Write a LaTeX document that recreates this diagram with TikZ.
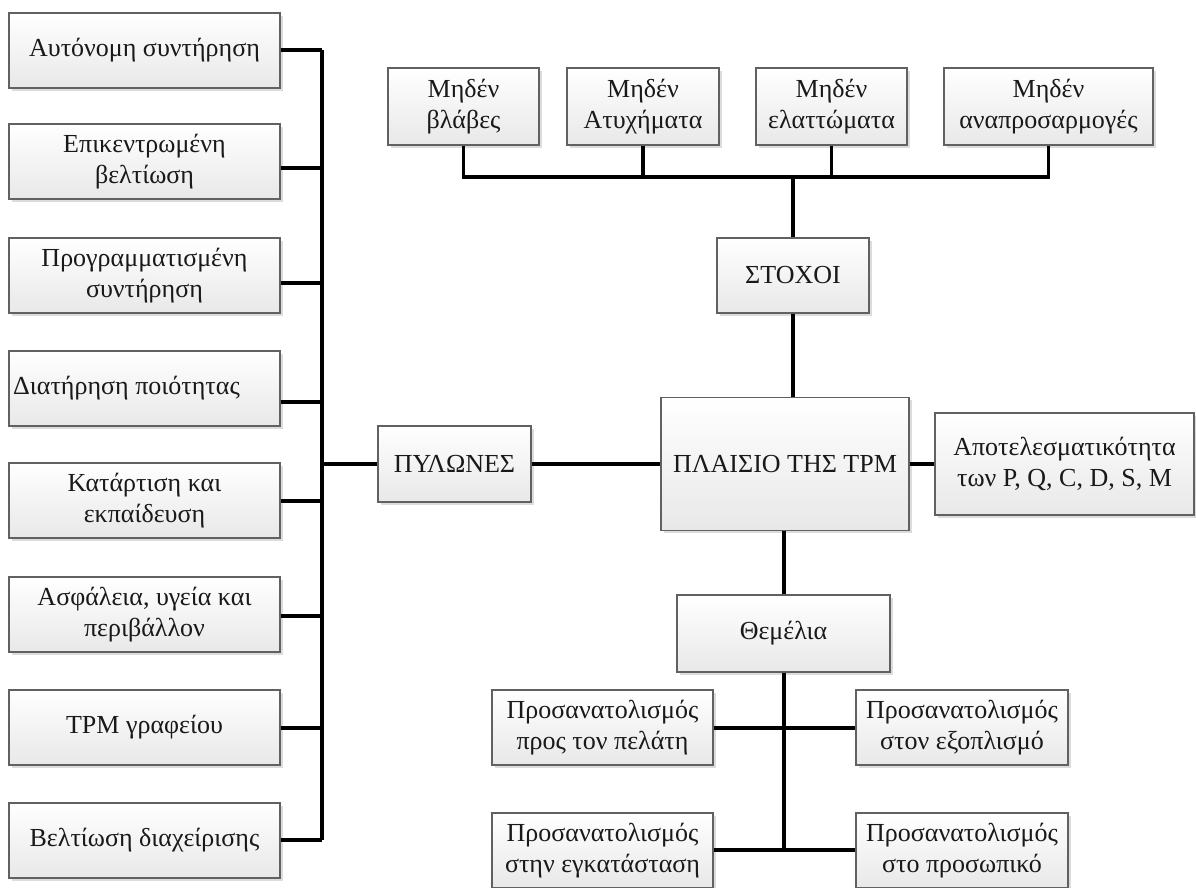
\documentclass[tikz,border=0pt]{standalone}
\usepackage{fontspec}
\setmainfont{Liberation Serif}
\usetikzlibrary{shadows}
\begin{document}
\begin{tikzpicture}[x=1pt,y=-1pt,
  blk/.style={draw=black!62, line width=1.2pt, top color=white, bottom color=black!9,
    drop shadow={shadow xshift=2.5pt, shadow yshift=-2.5pt, fill=black!30, opacity=0.45},
    inner sep=0pt, align=center, text=black!90,
    font=\fontsize{26}{31.5}\selectfont},
  wire/.style={draw=black, line width=3.2pt, line join=miter}]
\useasboundingbox (0,0) rectangle (1196,887);

% pillars column
\node[blk, minimum width=271pt, minimum height=75pt] (p1) at (144.5,50.5) {Αυτόνομη συντήρηση};
\node[blk, minimum width=271pt, minimum height=75pt] (p2) at (144.5,161.5) {Επικεντρωμένη\\βελτίωση};
\node[blk, minimum width=271pt, minimum height=75pt] (p3) at (144.5,275.5) {Προγραμματισμένη\\συντήρηση};
\node[blk, minimum width=271pt, minimum height=75pt] (p4) at (144.5,388.5) {Διατήρηση ποιότητας\hspace*{36pt}};
\node[blk, minimum width=271pt, minimum height=75pt] (p5) at (144.5,500.5) {Κατάρτιση και\\εκπαίδευση};
\node[blk, minimum width=271pt, minimum height=75pt] (p6) at (144.5,614.5) {Ασφάλεια, υγεία και\\περιβάλλον};
\node[blk, minimum width=271pt, minimum height=75pt] (p7) at (144.5,727.5) {TPM γραφείου};
\node[blk, minimum width=271pt, minimum height=75pt] (p8) at (144.5,840.5) {Βελτίωση διαχείρισης};

% bus points of the pillars column
\coordinate (l1) at (322,50);
\coordinate (l2) at (322,168);
\coordinate (l3) at (322,283);
\coordinate (l4) at (322,402);
\coordinate (l5) at (322,501);
\coordinate (l6) at (322,616);
\coordinate (l7) at (322,728);
\coordinate (l8) at (322,840);
\coordinate (lp) at (322,464);

% central blocks
\node[blk, minimum width=153pt, minimum height=76pt] (pyl) at (454.5,464) {ΠΥΛΩΝΕΣ};
\node[blk, minimum width=248pt, minimum height=133pt] (tpm) at (785,464) {ΠΛΑΙΣΙΟ ΤΗΣ TPM};
\node[blk, minimum width=259pt, minimum height=102pt] (eff) at (1064.5,464) {Αποτελεσματικότητα\\των P, Q, C, D, S, M};
\node[blk, minimum width=152pt, minimum height=75pt] (goal) at (793,275.5) {ΣΤΟΧΟΙ};
\node[blk, minimum width=213pt, minimum height=77pt] (found) at (783.5,633.5) {Θεμέλια};

% goals row
\node[blk, minimum width=151pt, minimum height=77pt] (g1) at (463.5,106.5) {Μηδέν\\βλάβες};
\node[blk, minimum width=152pt, minimum height=77pt] (g2) at (643,106.5) {Μηδέν\\Ατυχήματα};
\node[blk, minimum width=151pt, minimum height=77pt] (g3) at (831.5,106.5) {Μηδέν\\ελαττώματα};
\node[blk, minimum width=209pt, minimum height=77pt] (g4) at (1048.5,106.5) {Μηδέν\\αναπροσαρμογές};
\coordinate (gb) at (793,177);

% foundations
\node[blk, minimum width=221pt, minimum height=75pt] (f1) at (602.5,727.5) {Προσανατολισμός\\προς τον πελάτη};
\node[blk, minimum width=212pt, minimum height=75pt] (f2) at (962,727.5) {Προσανατολισμός\\στον εξοπλισμό};
\node[blk, minimum width=221pt, minimum height=75pt] (f3) at (602.5,850.5) {Προσανατολισμός\\στην εγκατάσταση};
\node[blk, minimum width=212pt, minimum height=75pt] (f4) at (962,850.5) {Προσανατολισμός\\στο προσωπικό};
\coordinate (fa) at (784,728);
\coordinate (fb) at (784,850);

% pillars connectors
\draw[wire] (l1) -- (l8);
\foreach \i in {1,...,8} \draw[wire] (p\i.east |- l\i) -- (l\i);
\draw[wire] (lp) -- (pyl.west);
\draw[wire] (pyl.east) -- (tpm.west);
\draw[wire] (tpm.east) -- (eff.west);

% goals connectors
\draw[wire] (g1.south) |- (g4.south |- gb) -- (g4.south);
\draw[wire] (g2.south) -- (g2.south |- gb);
\draw[wire] (g3.south) -- (g3.south |- gb);
\draw[wire] (gb) -- (goal.north);
\draw[wire] (goal.south) -- (goal.south |- tpm.north);

% foundations connectors
\draw[wire] (tpm.south -| fa) -- (found.north -| fa);
\draw[wire] (found.south -| fa) -- (fb);
\draw[wire] (f1.east |- fa) -- (f2.west |- fa);
\draw[wire] (f3.east |- fb) -- (f4.west |- fb);
\end{tikzpicture}
\end{document}
